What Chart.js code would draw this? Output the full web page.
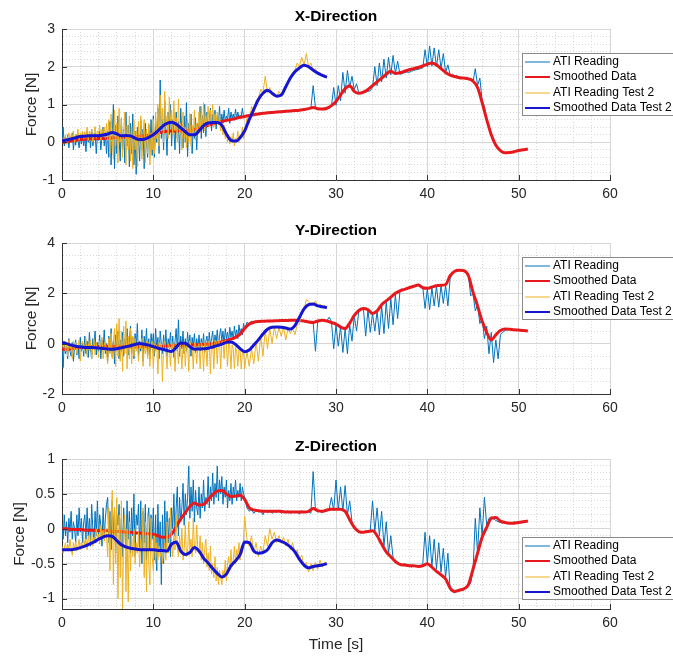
<!DOCTYPE html>
<html>
<head>
<meta charset="utf-8">
<title>Force readings</title>
<script src="https://cdn.jsdelivr.net/npm/chart.js@4.4.1/dist/chart.umd.min.js"></script>
<style>
  body { margin: 0; background: #fff; }
  .plot { position: absolute; left: 0; }
</style>
</head>
<body>
<div class="plot" style="top:0px"><canvas id="plotX" width="673" height="210"></canvas></div>
<div class="plot" style="top:214px"><canvas id="plotY" width="673" height="210"></canvas></div>
<div class="plot" style="top:430px"><canvas id="plotZ" width="673" height="226"></canvas></div>
<script>
// raw readings: 0.125 s samples for the first 20 s, 0.25 s samples after that
// smoothed curves: 0.5 s samples
const earlyStep = 0.125;
const lateStep = 0.25;
const lateStart = 20;
const smoothStep = 0.5;

const legendLabels = ['ATI Reading', 'Smoothed Data', 'ATI Reading Test 2', 'Smoothed Data Test 2'];
const plotTitles = ['X-Direction', 'Y-Direction', 'Z-Direction'];
const timeTicks = [0, 10, 20, 30, 40, 50, 60];

// ---- X direction ----
const xAtiEarly = [
  0.05, 0.4, -0.1, 0.15, -0.05, 0.2, -0.15, 0.1, 0.0, 0.25, -0.2, 0.12, -0.08, 0.2, 0.05, -0.15, 0.18, -0.05, 0.22, -0.1,
  0.15, -0.25, 0.3, 0.0, 0.2, -0.15, 0.35, -0.1, 0.1, 0.25, -0.3, 0.2, 0.05, 0.3, -0.2, 0.15, 0.4, -0.1, 0.25, -0.3,
  0.3, -0.4, 0.55, -0.6, 0.2, 1.0, -0.7, 0.45, -0.3, 0.7, 0.1, -0.5, 0.6, -0.2, 0.35, -0.55, 0.8, -0.1, 0.45, -0.65,
  0.5, -0.3, 0.75, -0.6, 0.3, -0.85, 0.4, 0.1, -0.5, 0.6, -0.2, 0.35, -0.7, 0.5, 0.0, -0.4, 0.45, -0.25, 0.6, -0.35,
  0.7, -0.4, 0.5, 0.0, 0.9, -0.3, 1.65, 0.1, 0.6, -0.2, 1.1, 0.3, -0.35, 0.8, 0.2, 1.0, -0.1, 0.6, 0.3, -0.2,
  0.8, 0.1, 0.55, -0.3, 0.9, 0.2, -0.15, 0.7, 0.0, 1.05, -0.38, 0.5, 0.15, 0.75, -0.3, 0.4, 0.1, 0.65, -0.2, 0.5,
  0.3, 0.95, 0.1, 0.7, 0.25, 1.0, 0.15, 0.8, 0.4, 0.55, 0.9, 0.3, 0.75, 0.45, 0.85, 0.35, 0.7, 0.5, 0.95, 0.4,
  0.75, 0.5, 0.85, 0.55, 0.7, 0.6, 0.9, 0.5, 0.8, 0.62, 0.75, 0.58, 0.88, 0.62, 0.8, 0.65, 0.72, 0.68, 0.9, 0.66
];
const xAtiLate = [
  0.7, 0.72, 0.7, 0.75, 0.74, 0.76, 0.75, 0.78, 0.77, 0.78, 0.79, 0.78, 0.8, 0.79, 0.8, 0.81, 0.8, 0.82, 0.81, 0.82,
  0.83, 0.84, 0.83, 0.85, 0.85, 0.86, 0.85, 0.87, 0.88, 0.9, 1.5, 0.92, 0.9, 0.88, 0.88, 0.87, 0.89, 0.9, 0.95, 1.45,
  0.98, 1.5, 1.1, 1.85, 1.3, 1.9, 1.45, 1.75, 1.4, 1.55, 1.3, 1.32, 1.3, 1.33, 1.35, 1.36, 1.45, 2.0, 1.5, 2.1,
  1.6, 2.2, 1.7, 2.25, 1.78, 2.3, 1.82, 2.15, 1.8, 1.82, 1.84, 1.86, 1.85, 1.88, 1.9, 1.92, 1.93, 1.95, 1.97, 2.45,
  2.0, 2.55, 2.02, 2.5, 2.0, 2.45, 1.95, 2.35, 1.85, 2.05, 1.78, 1.8, 1.75, 1.76, 1.73, 1.72, 1.7, 1.71, 1.68, 1.66,
  1.6, 1.95, 1.5, 1.7, 1.1, 0.95, 0.6, 0.45, 0.2, 0.1, -0.1, -0.15, -0.2, -0.25, -0.28, -0.28, -0.27, -0.26, -0.25, -0.24,
  -0.23, -0.22, -0.2, -0.19, -0.18
];
const xSmoothed = [
  0.0, 0.01, 0.03, 0.05, 0.07, 0.08, 0.09, 0.09, 0.1, 0.1,
  0.11, 0.12, 0.12, 0.13, 0.13, 0.14, 0.15, 0.16, 0.17, 0.19,
  0.22, 0.25, 0.27, 0.29, 0.3, 0.3, 0.3, 0.3, 0.31, 0.34,
  0.38, 0.42, 0.45, 0.49, 0.52, 0.55, 0.58, 0.6, 0.63, 0.66,
  0.68, 0.71, 0.73, 0.75, 0.77, 0.78, 0.79, 0.8, 0.81, 0.82,
  0.83, 0.84, 0.85, 0.87, 0.89, 0.92, 0.89, 0.88, 0.9, 0.97,
  1.08, 1.25, 1.42, 1.5, 1.35, 1.3, 1.33, 1.4, 1.5, 1.6,
  1.7, 1.8, 1.88, 1.82, 1.84, 1.88, 1.92, 1.95, 1.98, 2.02,
  2.07, 2.1, 2.05, 1.95, 1.85, 1.78, 1.74, 1.71, 1.7, 1.68,
  1.62, 1.45, 1.05, 0.6, 0.2, -0.08, -0.22, -0.28, -0.27, -0.25,
  -0.22, -0.2, -0.18
];
const xAti2Early = [
  0.0, 0.1, 0.05, 0.2, -0.05, 0.15, 0.25, 0.05, 0.2, 0.1, 0.3, 0.0, 0.22, 0.12, 0.35, 0.05, 0.25, 0.15, 0.3, 0.08,
  0.28, 0.1, 0.4, 0.05, 0.3, 0.18, 0.35, 0.0, 0.25, 0.42, 0.1, 0.3, 0.2, 0.45, 0.05, 0.35, 0.15, 0.4, 0.1, 0.5,
  0.05, 0.6, -0.3, 0.75, 0.1, -0.45, 0.85, -0.1, 0.5, -0.55, 0.9, 0.0, 0.65, -0.4, 0.3, 0.8, -0.6, 0.45, -0.2, 0.7,
  -0.5, 0.4, -0.7, 0.6, -0.2, 0.3, -0.65, 0.55, -0.1, 0.7, -0.45, 0.2, 0.6, -0.55, 0.35, -0.3, 0.5, -0.6, 0.25, -0.2,
  0.6, -0.3, 0.8, 0.1, 1.0, -0.1, 1.25, 0.3, 0.9, 0.0, 1.35, 0.4, 0.7, 0.1, 1.2, 0.5, 0.85, 0.2, 1.1, 0.3,
  0.65, 0.0, 1.15, 0.2, 0.5, -0.2, 0.8, 0.1, 0.4, -0.15, 0.6, 0.0, 0.75, -0.1, 0.45, 0.2, 0.85, 0.05, 0.5, 0.3,
  0.8, 0.25, 0.95, 0.35, 1.05, 0.3, 0.7, 0.45, 0.95, 0.4, 0.85, 0.5, 1.0, 0.4, 0.75, 0.55, 0.8, 0.45, 0.7, 0.3,
  0.5, 0.2, 0.45, 0.1, 0.3, 0.0, 0.2, -0.05, 0.15, 0.0, 0.25, -0.1, 0.1, 0.05, 0.3, 0.0, 0.2, 0.15, 0.4, 0.1
];
const xAti2Late = [
  0.25, 0.65, 0.5, 0.95, 0.8, 1.1, 1.15, 1.4, 1.3, 1.75, 1.3, 1.45, 1.25, 1.3, 1.2, 1.35, 1.25, 1.4, 1.45, 1.6,
  1.65, 1.85, 1.9, 2.1, 2.0, 2.25, 2.05, 2.35, 2.0, 2.1, 1.9, 1.95, 1.8, 1.85, 1.75, 1.8, 1.7
];
const xSmoothed2 = [
  0.04, 0.06, 0.09, 0.12, 0.15, 0.16, 0.17, 0.17, 0.17, 0.19,
  0.22, 0.26, 0.22, 0.17, 0.18, 0.17, 0.11, 0.07, 0.08, 0.13,
  0.2, 0.3, 0.42, 0.5, 0.53, 0.48, 0.38, 0.28, 0.2, 0.2,
  0.3, 0.44, 0.51, 0.52, 0.52, 0.45, 0.22, 0.05, 0.03, 0.12,
  0.3, 0.6, 0.87, 1.13, 1.3, 1.38, 1.3, 1.22, 1.25, 1.47,
  1.7, 1.87, 1.97, 2.04, 2.0, 1.91, 1.83, 1.77, 1.72
];

// ---- Y direction ----
const yAtiEarly = [
  -0.2, -0.95, 0.1, -0.4, -0.1, -0.6, 0.2, -0.3, -0.5, 0.05, -0.7, -0.15, 0.15, -0.45, -0.05, -0.6, 0.25, -0.3, 0.0, -0.5,
  0.3, -0.4, 0.1, -0.55, 0.45, -0.2, -0.6, 0.2, -0.1, 0.5, -0.45, 0.05, -0.3, 0.35, -0.6, 0.15, -0.2, 0.55, -0.4, 0.0,
  -0.7, 0.3, -0.35, 0.6, -0.5, 0.1, -0.8, 0.35, -0.2, 0.5, -0.6, 0.15, -0.3, 0.45, -0.5, 0.2, -0.1, 0.6, -0.45, 0.05,
  0.7, -0.4, 0.25, -0.6, 0.4, -0.2, 0.8, -0.5, 0.1, -0.3, 0.55, -0.7, 0.3, -0.15, 0.6, -0.45, 0.2, -0.6, 0.4, -0.1,
  0.4, -0.5, 0.6, -0.2, 0.25, -0.6, 0.5, 0.0, -0.4, 0.35, -0.25, 0.55, -0.5, 0.2, -0.1, 0.45, -0.35, 0.3, -0.55, 0.1,
  0.6, -0.3, 0.95, -0.5, 0.3, -0.2, 0.5, -0.4, 0.2, -0.3, 0.45, -0.15, 0.35, -0.5, 0.25, -0.1, 0.4, -0.35, 0.2, -0.2,
  0.35, -0.3, 0.2, -0.15, 0.4, -0.35, 0.1, 0.3, -0.25, 0.45, -0.1, 0.2, 0.5, -0.2, 0.35, 0.0, 0.55, -0.1, 0.3, 0.6,
  0.1, 0.5, -0.05, 0.6, 0.2, 0.45, 0.1, 0.65, 0.25, 0.5, 0.15, 0.7, 0.3, 0.55, 0.2, 0.75, 0.4, 0.6, 0.35, 0.8
];
const yAtiLate = [
  0.55, 0.85, 0.78, 0.9, 0.85, 0.88, 0.9, 0.86, 0.92, 0.89, 0.91, 0.88, 0.9, 0.92, 0.9, 0.93, 0.91, 0.94, 0.92, 0.93,
  0.95, 0.92, 0.94, 0.93, 0.95, 0.91, 0.92, 0.88, 0.86, 0.85, 0.84, -0.3, 0.88, 0.92, 0.95, 0.94, 0.9, 1.05, 0.88, -0.2,
  0.75, -0.1, 0.68, -0.35, 0.6, -0.4, 0.75, 0.1, 1.1, 0.5, 1.3, 1.35, 1.4, 0.3, 1.36, 0.45, 1.22, 0.5, 1.3, 0.35,
  1.5, 0.4, 1.65, 0.6, 1.8, 0.75, 1.95, 1.0, 2.08, 2.1, 2.15, 2.17, 2.2, 2.24, 2.27, 2.3, 2.32, 2.34, 2.25, 1.4,
  2.18, 1.35, 2.22, 1.5, 2.28, 1.45, 2.32, 1.6, 2.34, 1.5, 2.6, 2.75, 2.88, 2.92, 2.93, 2.9, 2.92, 2.88, 2.7, 1.9,
  2.0, 1.3, 1.55, 0.8, 1.0, 0.2, 0.7, -0.4, 0.45, -0.75, 0.15, -0.6, 0.35, 0.45, 0.52, 0.56, 0.57, 0.56, 0.55, 0.55,
  0.54, 0.53, 0.52, 0.51, 0.5
];
const ySmoothed = [
  -0.22, -0.22, -0.2, -0.18, -0.16, -0.14, -0.13, -0.12, -0.12, -0.11,
  -0.1, -0.1, -0.1, -0.11, -0.12, -0.12, -0.12, -0.12, -0.12, -0.12,
  -0.11, -0.1, -0.1, -0.09, -0.08, -0.07, -0.06, -0.05, -0.05, -0.05,
  -0.04, -0.03, -0.02, 0.0, 0.03, 0.08, 0.13, 0.18, 0.25, 0.38,
  0.6, 0.78, 0.85, 0.88, 0.89, 0.9, 0.9, 0.91, 0.92, 0.92,
  0.93, 0.93, 0.92, 0.9, 0.86, 0.84, 0.9, 0.93, 0.9, 0.84,
  0.78, 0.66, 0.6, 0.82, 1.12, 1.32, 1.4, 1.35, 1.2, 1.3,
  1.55, 1.7, 1.85, 2.0, 2.1, 2.16, 2.22, 2.28, 2.33, 2.22,
  2.2, 2.25, 2.3, 2.32, 2.35, 2.7, 2.88, 2.92, 2.9, 2.7,
  2.05, 1.5, 0.9, 0.45, 0.15, 0.35, 0.52, 0.58, 0.57, 0.55,
  0.54, 0.52, 0.5
];
const yAti2Early = [
  0.05, -0.15, 0.1, -0.3, 0.0, -0.5, 0.15, -0.2, -0.05, -0.6, 0.1, -0.25, 0.05, -0.4, -0.1, 0.15, -0.7, -0.05, 0.1, -0.3,
  -0.1, 0.2, -0.5, 0.0, -0.3, 0.15, -0.6, -0.1, 0.2, -0.45, 0.05, -0.2, -0.55, 0.1, -0.15, 0.25, -0.6, -0.05, 0.1, -0.4,
  -0.8, 0.2, -0.4, 0.4, -0.6, 0.1, 0.6, -0.9, 0.8, -0.5, 1.0, -0.7, 0.5, -1.1, 0.7, -0.4, 0.9, -1.0, 0.3, -0.6,
  0.6, -0.8, 0.3, -0.5, 0.2, -0.3, 0.1, -0.7, 0.05, -0.2, 0.2, -0.9, 0.0, -0.4, 0.1, -0.6, 0.05, -0.9, -0.1, 0.1,
  -1.0, 0.0, -0.3, -0.05, -1.2, 0.05, -0.2, 0.0, -1.5, -0.05, 0.1, -0.3, -1.0, 0.0, -0.1, -0.9, 0.1, -0.2, 0.0, -1.1,
  0.0, -0.15, -0.8, 0.05, -0.1, -1.0, 0.0, 0.1, -0.9, -0.05, 0.0, -1.1, 0.1, -0.1, -0.2, -1.0, 0.05, 0.0, -0.8, -0.1,
  0.0, -1.0, 0.05, -0.1, -1.1, 0.05, 0.0, -0.9, 0.1, 0.05, -1.2, 0.1, 0.0, -1.0, 0.15, 0.1, -0.8, 0.15, 0.05, -1.0,
  0.1, 0.1, -0.6, 0.15, 0.05, -0.9, 0.05, -0.1, -1.0, -0.05, -0.2, -1.0, -0.15, -0.3, -0.9, -0.25, -0.3, -1.0, -0.35, -0.3
];
const yAti2Late = [
  -1.0, -0.3, -0.9, -0.2, -0.8, 0.1, -0.7, 0.3, -0.5, 0.55, -0.2, 0.62, 0.0, 0.68, 0.2, 0.65, 0.3, 0.66, 0.15, 0.62,
  0.4, 0.6, 0.35, 0.75, 0.8, 1.2, 1.35, 1.75, 1.68, 1.6, 1.55, 1.7, 1.5, 1.58, 1.45, 1.5, 1.42
];
const ySmoothed2 = [
  0.05, 0.0, -0.06, -0.1, -0.13, -0.15, -0.15, -0.16, -0.17, -0.19,
  -0.21, -0.22, -0.2, -0.16, -0.12, -0.08, -0.03, 0.01, -0.02, -0.06,
  -0.12, -0.18, -0.22, -0.27, -0.31, -0.15, 0.03, 0.02, -0.12, -0.22,
  -0.21, -0.2, -0.18, -0.13, -0.08, -0.02, 0.05, 0.07, -0.03, -0.2,
  -0.32, -0.25, -0.05, 0.15, 0.38, 0.57, 0.65, 0.66, 0.65, 0.62,
  0.58, 0.72, 1.05, 1.38, 1.55, 1.58, 1.5, 1.47, 1.43
];

// ---- Z direction ----
const zAtiEarly = [
  0.05, -0.15, 0.2, -0.1, 0.1, -0.2, 0.15, -0.05, 0.25, -0.15, 0.1, 0.0, -0.2, 0.2, -0.1, 0.3, -0.05, 0.15, -0.2, 0.1,
  0.2, -0.15, 0.3, -0.1, 0.15, -0.25, 0.35, 0.0, -0.2, 0.25, -0.1, 0.4, -0.15, 0.2, 0.05, -0.25, 0.3, -0.1, 0.15, 0.35,
  0.45, -0.2, 0.25, -0.3, 0.4, -0.1, 0.3, -0.35, 0.2, 0.05, 0.35, -0.25, 0.15, -0.4, 0.3, 0.0, -0.3, 0.4, -0.15, 0.25,
  -0.35, 0.3, -0.1, 0.5, -0.4, 0.2, 0.05, 0.35, -0.3, 0.4, -0.5, 0.25, -0.2, 0.35, -0.45, 0.15, 0.3, -0.3, 0.2, -0.15,
  0.3, -0.45, 0.2, -0.6, 0.35, -0.3, 0.1, -0.8, 0.2, -0.5, 0.4, -0.35, 0.25, -0.2, 0.15, -0.4, 0.3, 0.0, 0.5, -0.1,
  0.3, 0.6, -0.1, 0.45, 0.1, 0.3, 0.65, 0.05, 0.5, 0.2, 0.45, 0.9, 0.15, 0.6, 0.25, 0.7, 0.1, 0.55, 0.3, 0.2,
  0.6, 0.15, 0.5, 0.3, 0.7, 0.25, 0.45, 0.35, 0.75, 0.3, 0.6, 0.4, 0.8, 0.35, 0.65, 0.45, 0.9, 0.4, 0.7, 0.5,
  0.75, 0.35, 0.6, 0.45, 0.7, 0.3, 0.55, 0.4, 0.65, 0.35, 0.6, 0.45, 0.7, 0.4, 0.55, 0.45, 0.65, 0.4, 0.6, 0.5
];
const zAtiLate = [
  0.45, 0.3, 0.25, 0.28, 0.22, 0.27, 0.24, 0.26, 0.2, 0.27, 0.23, 0.26, 0.22, 0.25, 0.24, 0.27, 0.22, 0.25, 0.23, 0.26,
  0.22, 0.25, 0.23, 0.24, 0.21, 0.26, 0.23, 0.24, 0.25, 0.22, 0.82, 0.27, 0.24, 0.25, 0.23, 0.26, 0.25, 0.28, 0.45, 0.26,
  0.7, 0.27, 0.6, 0.25, 0.62, 0.2, 0.4, 0.1, 0.0, -0.02, -0.06, -0.04, -0.05, -0.03, -0.05, -0.02, 0.4, -0.04, 0.3, -0.1,
  0.25, -0.25, 0.1, -0.35, -0.1, -0.42, -0.45, -0.48, -0.5, -0.52, -0.5, -0.53, -0.52, -0.55, -0.53, -0.54, -0.52, -0.55, -0.5, -0.05,
  -0.5, -0.1, -0.55, -0.15, -0.58, -0.2, -0.62, -0.28, -0.7, -0.35, -0.88, -0.9, -0.92, -0.88, -0.9, -0.86, -0.88, -0.84, -0.82, -0.78,
  -0.6, 0.15, -0.35, 0.3, -0.1, 0.45, 0.05, 0.15, 0.17, 0.14, 0.12, 0.1, 0.09, 0.08, 0.1, 0.07, 0.09, 0.08, 0.1, 0.09,
  0.1, 0.08, 0.11, 0.1, 0.12
];
const zSmoothed = [
  0.0, 0.0, -0.01, -0.01, -0.01, -0.02, -0.02, -0.02, -0.03, -0.03,
  -0.03, -0.04, -0.04, -0.04, -0.05, -0.05, -0.06, -0.06, -0.07, -0.07,
  -0.08, -0.1, -0.12, -0.12, -0.08, 0.03, 0.14, 0.23, 0.32, 0.37,
  0.34, 0.35, 0.42, 0.49, 0.54, 0.55, 0.5, 0.46, 0.47, 0.48,
  0.42, 0.3, 0.27, 0.26, 0.25, 0.25, 0.25, 0.25, 0.25, 0.24,
  0.24, 0.24, 0.24, 0.24, 0.25, 0.29, 0.26, 0.25, 0.27, 0.28,
  0.28, 0.28, 0.25, 0.13, 0.02, -0.04, -0.05, -0.04, -0.03, -0.1,
  -0.22, -0.33, -0.4, -0.47, -0.51, -0.52, -0.53, -0.53, -0.54, -0.53,
  -0.5, -0.55, -0.61, -0.66, -0.72, -0.85, -0.9, -0.88, -0.86, -0.8,
  -0.58, -0.35, -0.12, 0.02, 0.15, 0.16, 0.11, 0.09, 0.08, 0.08,
  0.09, 0.1, 0.11
];
const zAti2Early = [
  -0.25, -0.35, -0.28, -0.2, -0.32, -0.22, -0.3, -0.15, -0.28, -0.38, -0.2, -0.3, -0.18, -0.32, -0.25, -0.15, -0.3, -0.2, -0.28, -0.12,
  -0.25, -0.15, -0.3, -0.1, -0.22, -0.18, -0.05, -0.25, -0.12, -0.2, 0.0, -0.15, -0.08, -0.22, 0.05, -0.12, -0.02, -0.18, 0.05, -0.1,
  -0.4, 0.3, -0.6, 0.1, 0.55, -0.8, 0.3, -0.5, 0.45, -1.0, 0.2, -0.7, 0.4, -1.15, -0.1, 0.2, -0.9, 0.0, -1.05, 0.1,
  -0.6, -0.1, -0.4, 0.0, -0.5, -0.2, -0.35, -0.05, -0.55, -0.15, -0.3, 0.3, -0.7, 0.1, -0.9, 0.2, -0.5, -0.8, 0.15, -0.4,
  -0.6, -0.1, -0.5, -0.2, -0.45, -0.25, -0.4, -0.3, -0.5, -0.35, -0.2, -0.45, 0.1, -0.35, -0.25, 0.3, -0.2, -0.4, -0.1, -0.3,
  0.2, -0.25, -0.4, -0.1, -0.35, 0.0, -0.45, -0.3, 0.05, -0.4, -0.35, 0.1, -0.3, -0.15, -0.4, 0.15, -0.25, -0.35, 0.05, -0.3,
  -0.35, -0.1, -0.45, -0.2, -0.5, -0.3, -0.15, -0.55, -0.35, -0.6, -0.25, -0.65, -0.5, -0.7, -0.4, -0.75, -0.55, -0.8, -0.6, -0.7,
  -0.8, -0.6, -0.7, -0.45, -0.75, -0.5, -0.4, -0.6, -0.3, -0.55, -0.45, -0.25, -0.5, -0.3, -0.4, -0.2, -0.45, -0.25, -0.35, -0.15
];
const zAti2Late = [
  0.18, -0.15, -0.25, -0.1, -0.35, -0.2, -0.4, -0.25, -0.35, -0.1, -0.25, 0.0, -0.15, -0.05, -0.2, -0.1, -0.2, -0.12, -0.25, -0.15,
  -0.3, -0.2, -0.35, -0.3, -0.45, -0.38, -0.55, -0.48, -0.62, -0.5, -0.6, -0.48, -0.58, -0.45, -0.55, -0.48, -0.5
];
const zSmoothed2 = [
  -0.3, -0.3, -0.3, -0.29, -0.27, -0.25, -0.22, -0.19, -0.15, -0.12,
  -0.1, -0.11, -0.17, -0.23, -0.26, -0.28, -0.29, -0.3, -0.3, -0.3,
  -0.3, -0.31, -0.31, -0.32, -0.22, -0.19, -0.32, -0.37, -0.34, -0.27,
  -0.32, -0.42, -0.49, -0.57, -0.64, -0.69, -0.65, -0.53, -0.46, -0.37,
  -0.19, -0.2, -0.32, -0.35, -0.34, -0.3, -0.2, -0.16, -0.18, -0.21,
  -0.26, -0.33, -0.44, -0.52, -0.56, -0.54, -0.53, -0.52, -0.5
];

const FONT = '"Liberation Sans", Arial, Helvetica, sans-serif';
const colors = ['#0072bd', '#e8191c', '#edb120', '#1616d2'];

const toPoints = (values, step, t0) => values.map((v, i) => ({ x: t0 + i * step, y: v }));
const rawPoints = (early, late) => toPoints(early, earlyStep, 0).concat(toPoints(late, lateStep, lateStart));
const isMajor = (v, major) => Math.abs(v / major - Math.round(v / major)) < 1e-6;

// titles, inward tick marks and the boxed legend, drawn the way MATLAB does it
const matlabLook = {
  id: 'matlabLook',
  afterDraw(chart, args, opts) {
    const { ctx, chartArea: a, scales } = chart;
    ctx.save();
    ctx.strokeStyle = '#333';
    ctx.lineWidth = 1;
    ctx.beginPath();
    scales.x.ticks.forEach(t => {
      if (!isMajor(t.value, 10)) return;
      const px = Math.round(scales.x.getPixelForValue(t.value)) + 0.5;
      ctx.moveTo(px, a.bottom);
      ctx.lineTo(px, a.bottom - 5);
    });
    scales.y.ticks.forEach(t => {
      if (!isMajor(t.value, opts.major)) return;
      const py = Math.round(scales.y.getPixelForValue(t.value)) + 0.5;
      ctx.moveTo(a.left, py);
      ctx.lineTo(a.left + 5, py);
    });
    ctx.stroke();

    ctx.fillStyle = '#000';
    ctx.font = 'bold 15.5px ' + FONT;
    ctx.textAlign = 'center';
    ctx.textBaseline = 'middle';
    ctx.fillText(opts.title, (a.left + a.right) / 2, a.top - 12);

    const lx = a.right - 88;
    const ly = Math.round(a.top + opts.legendTop);
    ctx.fillStyle = '#fff';
    ctx.fillRect(lx, ly, 170, 62);
    ctx.strokeStyle = '#8a8a8a';
    ctx.strokeRect(lx + 0.5, ly + 0.5, 170, 62);
    ctx.font = '12px ' + FONT;
    ctx.textAlign = 'left';
    chart.data.datasets.forEach((ds, i) => {
      const yy = ly + 8.5 + i * 15.5;
      const thin = ds.borderWidth <= 1;
      // thin sample lines sit between pixel rows so they come out pale, as in the original
      const ly2 = thin ? Math.round(yy) : yy;
      ctx.strokeStyle = ds.borderColor;
      ctx.lineWidth = thin ? 1 : 2;
      ctx.beginPath();
      ctx.moveTo(lx + 3, ly2);
      ctx.lineTo(lx + 28, ly2);
      ctx.stroke();
      ctx.fillStyle = '#000';
      ctx.fillText(ds.label, lx + 31, yy);
    });
    ctx.restore();
  }
};

function makePlot(id, title, series, yMin, yMax, minor, major, legendTop, opts) {
  const datasets = series.map((pts, i) => ({
    label: legendLabels[i],
    data: pts,
    borderColor: colors[i],
    borderWidth: i % 2 === 0 ? 1 : 3,
    pointRadius: 0,
    tension: 0,
    cubicInterpolationMode: i % 2 === 0 ? 'default' : 'monotone',
    order: 4 - i
  }));
  const gridColor = (c, m) => (c.tick && isMajor(c.tick.value, m)) ? '#d6d6d6' : '#d9d9d9';
  const gridDash = (c, m) => (c.tick && !isMajor(c.tick.value, m)) ? [1, 2] : [];
  return new Chart(document.getElementById(id), {
    type: 'line',
    data: { datasets },
    options: {
      responsive: false,
      animation: false,
      devicePixelRatio: 1,
      parsing: false,
      layout: { padding: { top: 29, right: 63, bottom: 0, left: 0 } },
      plugins: {
        legend: { display: false },
        tooltip: { enabled: false },
        matlabLook: { title, legendTop, major }
      },
      scales: {
        x: {
          type: 'linear',
          min: 0,
          max: 60,
          afterFit: s => { s.height = opts.xHeight; },
          ticks: {
            stepSize: 2,
            autoSkip: false,
            maxRotation: 0,
            padding: 6,
            color: '#262626',
            font: { size: 14, family: FONT },
            callback: v => timeTicks.includes(v) ? String(v) : ''
          },
          grid: { drawTicks: false, color: c => gridColor(c, 10) },
          border: { color: '#333', dash: c => gridDash(c, 10) },
          title: {
            display: !!opts.xTitle,
            text: opts.xTitle || '',
            color: '#262626',
            font: { size: 15.5, family: FONT },
            padding: { top: 0, bottom: 2 }
          }
        },
        y: {
          type: 'linear',
          min: yMin,
          max: yMax,
          afterFit: s => { s.width = 62; },
          ticks: {
            stepSize: minor,
            autoSkip: false,
            includeBounds: false,
            padding: 7,
            color: '#262626',
            font: { size: 14, family: FONT },
            callback: v => isMajor(v, major) ? String(Math.round(v * 100) / 100) : ''
          },
          grid: { drawTicks: false, color: c => gridColor(c, major) },
          border: { color: '#333', dash: c => gridDash(c, major) },
          title: {
            display: true,
            text: 'Force [N]',
            color: '#262626',
            font: { size: 15.5, family: FONT },
            padding: { top: opts.yTitlePad, bottom: 0 }
          }
        }
      }
    },
    plugins: [matlabLook]
  });
}

makePlot('plotX', plotTitles[0],
  [rawPoints(xAtiEarly, xAtiLate), toPoints(xSmoothed, smoothStep, 0),
   rawPoints(xAti2Early, xAti2Late), toPoints(xSmoothed2, smoothStep, 0)],
  -1, 3, 0.2, 1, 24, { xHeight: 30, yTitlePad: 22 });
makePlot('plotY', plotTitles[1],
  [rawPoints(yAtiEarly, yAtiLate), toPoints(ySmoothed, smoothStep, 0),
   rawPoints(yAti2Early, yAti2Late), toPoints(ySmoothed2, smoothStep, 0)],
  -2, 4, 0.5, 2, 13.5, { xHeight: 30, yTitlePad: 22 });
makePlot('plotZ', plotTitles[2],
  [rawPoints(zAtiEarly, zAtiLate), toPoints(zSmoothed, smoothStep, 0),
   rawPoints(zAti2Early, zAti2Late), toPoints(zSmoothed2, smoothStep, 0)],
  -1.15, 1, 0.1, 0.5, 77.5, { xHeight: 47, yTitlePad: 10, xTitle: 'Time [s]' });
</script>
</body>
</html>
